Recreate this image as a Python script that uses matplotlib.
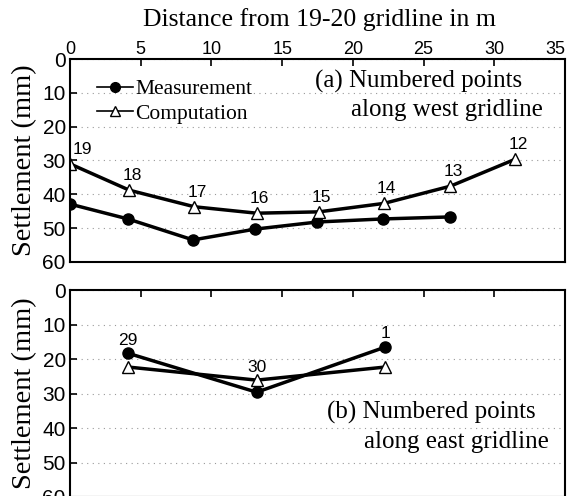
import numpy as np
import matplotlib.pyplot as plt

# (a) west gridline
west_labels = ['19', '18', '17', '16', '15', '14', '13', '12']
west_x_comp = [0.0, 4.2, 8.8, 13.2, 17.6, 22.2, 26.9, 31.5]
west_comp = [31.0, 38.8, 43.7, 45.6, 45.2, 42.7, 37.6, 29.6]
west_x_meas = [0.0, 4.1, 8.7, 13.1, 17.5, 22.1, 26.9]
west_meas = [42.9, 47.3, 53.5, 50.3, 48.2, 47.3, 46.7]

# (b) east gridline
east_labels = ['29', '30', '1']
east_x = [4.1, 13.2, 22.3]
east_meas = [18.3, 29.6, 16.5]
east_comp = [22.3, 26.1, 22.3]

xticks = [0, 5, 10, 15, 20, 25, 30, 35]
yticks = [0, 10, 20, 30, 40, 50, 60]

serif = 'Liberation Serif'
sans = ['Liberation Sans', 'DejaVu Sans']

fig = plt.figure(figsize=(5.68, 4.96), dpi=100)
ax1 = fig.add_axes([0.1232, 0.472, 0.8715, 0.409])
ax2 = fig.add_axes([0.1232, -0.002, 0.8715, 0.417])

for ax in (ax1, ax2):
    ax.set_xlim(0, 35)
    ax.set_ylim(60, 0)
    ax.set_xticks(xticks)
    ax.set_yticks(yticks)
    ax.xaxis.tick_top()
    ax.tick_params(axis='x', direction='in', length=5, width=1.2, pad=1)
    ax.tick_params(axis='y', direction='in', length=5, width=1.2, pad=3)
    for lab in ax.get_xticklabels():
        lab.set_family(sans)
        lab.set_fontsize(13)
    for lab in ax.get_yticklabels():
        lab.set_family(sans)
        lab.set_fontsize(15)
    for s in ax.spines.values():
        s.set_linewidth(1.5)
    ax.yaxis.grid(True, linestyle=(0, (1, 4)), color='#999999', linewidth=0.8)
    ax.set_ylabel('Settlement (mm)', family=serif, fontsize=20.5)
    ax.yaxis.set_label_coords(-0.066, 0.5)

# keep the last top tick label inside the figure
ax1.get_xticklabels()[-1].set_horizontalalignment('right')
ax2.tick_params(axis='x', labeltop=False)

ax1.plot(west_x_meas, west_meas, color='black', lw=2.5, marker='o', ms=8,
         label='Measurement')
ax1.plot(west_x_comp, west_comp, color='black', lw=2.5, marker='^', ms=8,
         mfc='white', mec='black', mew=1, label='Computation')
for i, (x, y, t) in enumerate(zip(west_x_comp, west_comp, west_labels)):
    dx = 9 if i == 0 else 2
    ax1.annotate(t, (x, y), xytext=(dx, 5), textcoords='offset points',
                 ha='center', va='bottom', family=sans, fontsize=12.5)

leg = ax1.legend(loc='upper left', bbox_to_anchor=(0.025, 0.975), frameon=False,
                 prop={'family': serif, 'size': 15.5}, handlelength=1.65,
                 handletextpad=0.1, borderpad=0.2, labelspacing=0.2)
for h in leg.legend_handles:
    h.set_linewidth(1.2)
    h.set_markersize(7)

ax1.text(0.495, 0.887, '(a) Numbered points', transform=ax1.transAxes,
         family=serif, fontsize=18, ha='left', va='center')
ax1.text(0.955, 0.749, 'along west gridline', transform=ax1.transAxes,
         family=serif, fontsize=18, ha='right', va='center')

ax2.plot(east_x, east_meas, color='black', lw=2.5, marker='o', ms=8)
ax2.plot(east_x, east_comp, color='black', lw=2.5, marker='^', ms=8,
         mfc='white', mec='black', mew=1)
for x, ym, yc, t in zip(east_x, east_meas, east_comp, east_labels):
    ax2.annotate(t, (x, min(ym, yc)), xytext=(0, 4),
                 textcoords='offset points', ha='center', va='bottom',
                 family=sans, fontsize=12.5)

ax2.text(0.52, 0.411, '(b) Numbered points', transform=ax2.transAxes,
         family=serif, fontsize=18, ha='left', va='center')
ax2.text(0.967, 0.266, 'along east gridline', transform=ax2.transAxes,
         family=serif, fontsize=18, ha='right', va='center')

fig.text(0.562, 0.96, 'Distance from 19-20 gridline in m', family=serif,
         fontsize=18.5, ha='center', va='center')

fig.savefig('out.png', dpi=100)
